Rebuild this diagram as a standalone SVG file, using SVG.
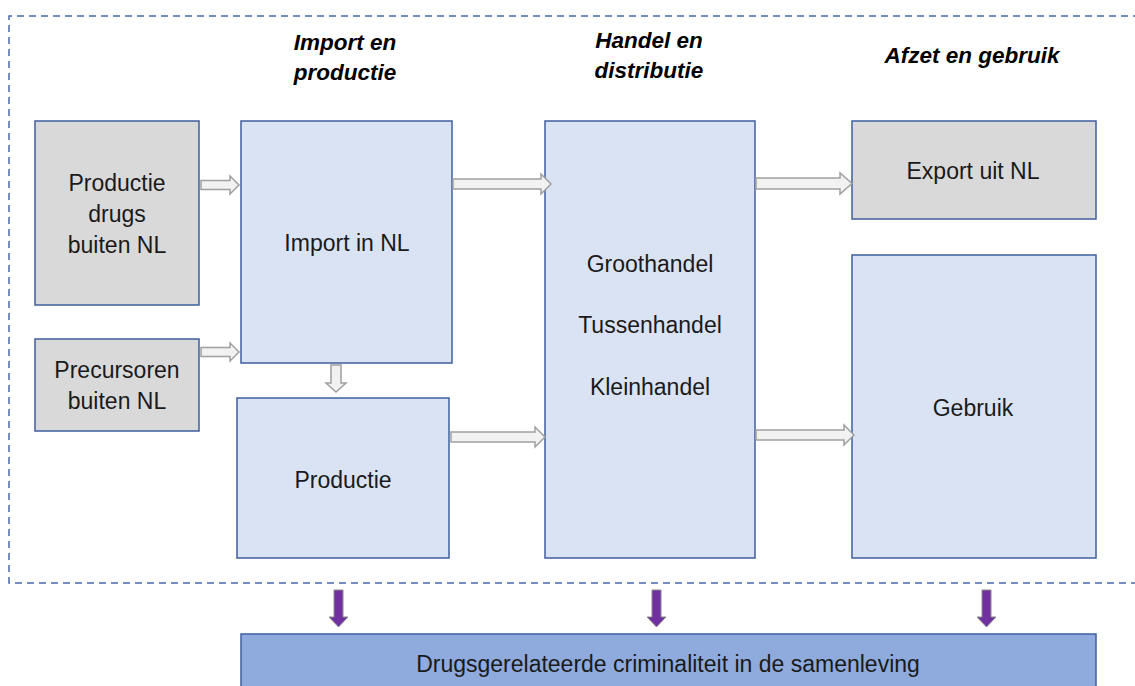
<svg xmlns="http://www.w3.org/2000/svg" width="1135" height="686" viewBox="0 0 1135 686">
<style>
.gray{fill:#d9d9d9;stroke:#3f5f9e;stroke-width:1.5}
.blue{fill:#dae3f3;stroke:#3f5f9e;stroke-width:1.5}
.bar{fill:#8faadc;stroke:#3f5f9e;stroke-width:1.5}
.t{font-family:"Liberation Sans",Arial,sans-serif;font-size:23px;fill:#1a1a1a;text-anchor:middle}
.h{font-family:"Liberation Sans",Arial,sans-serif;font-size:22.5px;font-weight:bold;font-style:italic;fill:#000;text-anchor:middle}
.ba{fill:#f2f2f2;stroke:#a0a0a0;stroke-width:1.5}
.pa{fill:#7030a0;stroke:#8a8a8a;stroke-width:1}
</style>
<rect x="0" y="0" width="1135" height="686" fill="#ffffff"/>
<path d="M1140,16 H9 V583 H1140" fill="none" stroke="#4a6aa8" stroke-width="1.5" stroke-dasharray="7,5"/>
<g id="headers">
<text class="h" x="345" y="50">Import en</text>
<text class="h" x="345" y="80">productie</text>
<text class="h" x="649" y="48">Handel en</text>
<text class="h" x="649" y="78">distributie</text>
<text class="h" x="972" y="63">Afzet en gebruik</text>
</g>
<g id="productie-drugs">
<rect class="gray" x="35" y="121" width="164" height="184"/>
<text class="t" x="117" y="191">Productie</text>
<text class="t" x="117" y="222">drugs</text>
<text class="t" x="117" y="253">buiten NL</text>
</g>
<g id="precursoren">
<rect class="gray" x="35" y="339" width="164" height="92"/>
<text class="t" x="117" y="378">Precursoren</text>
<text class="t" x="117" y="409">buiten NL</text>
</g>
<g id="import">
<rect class="blue" x="241" y="121" width="211" height="242"/>
<text class="t" x="347" y="251">Import in NL</text>
</g>
<g id="productie">
<rect class="blue" x="237" y="398" width="212" height="160"/>
<text class="t" x="343" y="488">Productie</text>
</g>
<g id="handel">
<rect class="blue" x="545" y="121" width="210" height="437"/>
<text class="t" x="650" y="272">Groothandel</text>
<text class="t" x="650" y="333">Tussenhandel</text>
<text class="t" x="650" y="395">Kleinhandel</text>
</g>
<g id="export">
<rect class="gray" x="852" y="121" width="244" height="98"/>
<text class="t" x="973" y="179">Export uit NL</text>
</g>
<g id="gebruik">
<rect class="blue" x="852" y="255" width="244" height="303"/>
<text class="t" x="973" y="416">Gebruik</text>
</g>
<g id="criminaliteit">
<rect class="bar" x="241" y="634" width="855" height="60"/>
<text class="t" x="668" y="672">Drugsgerelateerde criminaliteit in de samenleving</text>
</g>
<g id="connectors">
<polygon class="ba" points="201,180.5 230,180.5 230,176 239,185 230,194 230,189.5 201,189.5"/>
<polygon class="ba" points="201,347.5 230,347.5 230,343 239,352 230,361 230,356.5 201,356.5"/>
<polygon class="ba" points="453,179 541,179 541,174 551,184 541,194 541,189 453,189"/>
<polygon class="ba" points="756,178 840,178 840,173 852,183.5 840,194 840,189 756,189"/>
<polygon class="ba" points="451,432 535,432 535,427 545,437 535,447 535,442 451,442"/>
<polygon class="ba" points="756,430 844,430 844,425 854,435 844,445 844,440 756,440"/>
<polygon class="ba" points="331,365 341,365 341,383 346,383 336,392 326,383 331,383"/>
<polygon class="pa" points="334,590 343,590 343,617 348,617 338.5,627 329,617 334,617"/>
<polygon class="pa" points="652,590 661,590 661,617 666,617 656.5,627 647,617 652,617"/>
<polygon class="pa" points="982,590 991,590 991,617 996,617 986.5,627 977,617 982,617"/>
</g>
</svg>
